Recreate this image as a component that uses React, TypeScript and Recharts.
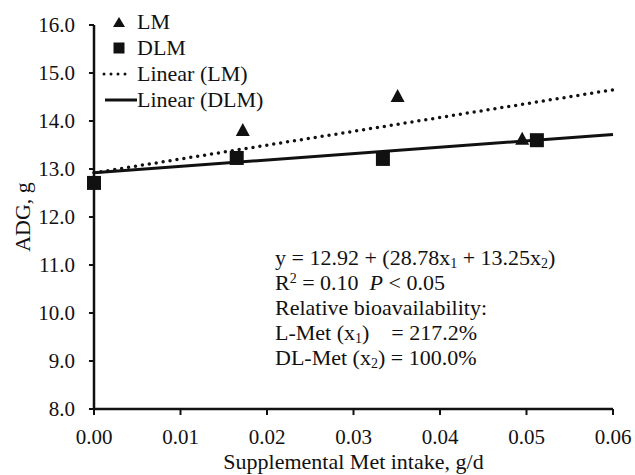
import React from "react";
import { ScatterChart, Scatter, XAxis, YAxis } from "recharts";

// values
const X_TICKS = [0, 0.01, 0.02, 0.03, 0.04, 0.05, 0.06];
const Y_TICKS = [8, 9, 10, 11, 12, 13, 14, 15, 16];

const LM_X = [0.0172, 0.0351, 0.0495];
const LM_Y = [13.81, 14.52, 13.63];
const DLM_X = [0, 0.0165, 0.0334, 0.0512];
const DLM_Y = [12.71, 13.23, 13.21, 13.6];

const TREND_X = [0, 0.06];
const LM_TREND_Y = [12.92, 14.65];
const DLM_TREND_Y = [12.92, 13.72];

const FONT = '"Liberation Serif", "Times New Roman", serif';
const INK = "#111";

const zip = (xs: number[], ys: number[]) => xs.map((x, i) => ({ x, y: ys[i] }));

const lmData = zip(LM_X, LM_Y);
const dlmData = zip(DLM_X, DLM_Y);
const lmTrend = zip(TREND_X, LM_TREND_Y);
const dlmTrend = zip(TREND_X, DLM_TREND_Y);

function Triangle(props: any) {
  const { cx, cy } = props;
  if (cx == null || cy == null) return <g />;
  return <path d={`M${cx},${cy - 7} L${cx + 7},${cy + 6} L${cx - 7},${cy + 6} Z`} fill={INK} />;
}

function Square(props: any) {
  const { cx, cy } = props;
  if (cx == null || cy == null) return <g />;
  return <rect x={cx - 7} y={cy - 7} width={14} height={14} fill={INK} />;
}

const Nothing = () => <g />;

function LegendBox() {
  const row: React.CSSProperties = { display: "flex", alignItems: "center", height: 26 };
  const txt: React.CSSProperties = { fontFamily: FONT, fontSize: 22, color: INK, lineHeight: "26px" };
  return (
    <div style={{ position: "absolute", left: 100, top: 9 }}>
      <div style={row}>
        <svg width={37} height={26}>
          <path d="M19,8 L25,18 L13,18 Z" fill={INK} />
        </svg>
        <span style={txt}>LM</span>
      </div>
      <div style={row}>
        <svg width={37} height={26}>
          <rect x={13.5} y={7.5} width={11} height={11} fill={INK} />
        </svg>
        <span style={txt}>DLM</span>
      </div>
      <div style={row}>
        <svg width={37} height={26}>
          <line x1={4} y1={13} x2={31} y2={13} stroke={INK} strokeWidth={3} strokeDasharray="0 7" strokeLinecap="round" />
        </svg>
        <span style={txt}>Linear (LM)</span>
      </div>
      <div style={row}>
        <svg width={37} height={26}>
          <line x1={5} y1={13} x2={37} y2={13} stroke={INK} strokeWidth={3} />
        </svg>
        <span style={txt}>Linear (DLM)</span>
      </div>
    </div>
  );
}

export default function App() {
  const tick = { fill: INK, fontSize: 21, fontFamily: FONT };
  const sub: React.CSSProperties = { fontSize: 14, position: "relative", top: 3, lineHeight: 0 };
  const sup: React.CSSProperties = { fontSize: 14, position: "relative", top: -7, lineHeight: 0 };

  return (
    <div
      style={{
        position: "absolute",
        left: 0,
        top: 0,
        width: 635,
        height: 475,
        background: "#fff",
        fontFamily: FONT,
      }}
    >
      <ScatterChart
        width={635}
        height={475}
        margin={{ top: 25, right: 22, bottom: 0, left: 0 }}
        style={{ fontFamily: FONT }}
      >
        <XAxis
          type="number"
          dataKey="x"
          domain={[0, 0.06]}
          ticks={X_TICKS}
          tickFormatter={(v: number) => v.toFixed(2)}
          height={66}
          tick={tick}
          tickSize={6}
          tickMargin={14}
          stroke={INK}
          strokeWidth={2.5}
          tickLine={{ stroke: INK, strokeWidth: 2 }}
          label={{ value: "Supplemental Met intake, g/d", position: "insideBottom", offset: 6, fill: INK, fontSize: 22, fontFamily: FONT }}
        />
        <YAxis
          type="number"
          dataKey="y"
          domain={[8, 16]}
          ticks={Y_TICKS}
          tickFormatter={(v: number) => v.toFixed(1)}
          width={94}
          tick={tick}
          tickSize={5}
          tickMargin={14}
          stroke={INK}
          strokeWidth={2.5}
          tickLine={{ stroke: INK, strokeWidth: 2 }}
          label={{ value: "ADG, g", angle: -90, position: "center", dx: -25, fill: INK, fontSize: 22, fontFamily: FONT }}
        />
        <Scatter
          name="Linear (LM)"
          data={lmTrend}
          shape={Nothing}
          line={{ stroke: INK, strokeWidth: 3.5, strokeDasharray: "0 7", strokeLinecap: "round" }}
          isAnimationActive={false}
        />
        <Scatter
          name="Linear (DLM)"
          data={dlmTrend}
          shape={Nothing}
          line={{ stroke: INK, strokeWidth: 3 }}
          isAnimationActive={false}
        />
        <Scatter name="LM" data={lmData} shape={Triangle} isAnimationActive={false} />
        <Scatter name="DLM" data={dlmData} shape={Square} isAnimationActive={false} />
      </ScatterChart>

      <LegendBox />

      <div
        style={{
          position: "absolute",
          left: 275,
          top: 245,
          fontFamily: FONT,
          fontSize: 22,
          lineHeight: "25px",
          color: INK,
          whiteSpace: "pre",
        }}
      >
        <div>
          y = 12.92 + (28.78x<span style={sub}>1</span> + 13.25x<span style={sub}>2</span>)
        </div>
        <div>
          R<span style={sup}>2</span> = 0.10  <i>P</i> &lt; 0.05
        </div>
        <div>Relative bioavailability:</div>
        <div>
          L-Met (x<span style={sub}>1</span>)    = 217.2%
        </div>
        <div>
          DL-Met (x<span style={sub}>2</span>) = 100.0%
        </div>
      </div>
    </div>
  );
}
